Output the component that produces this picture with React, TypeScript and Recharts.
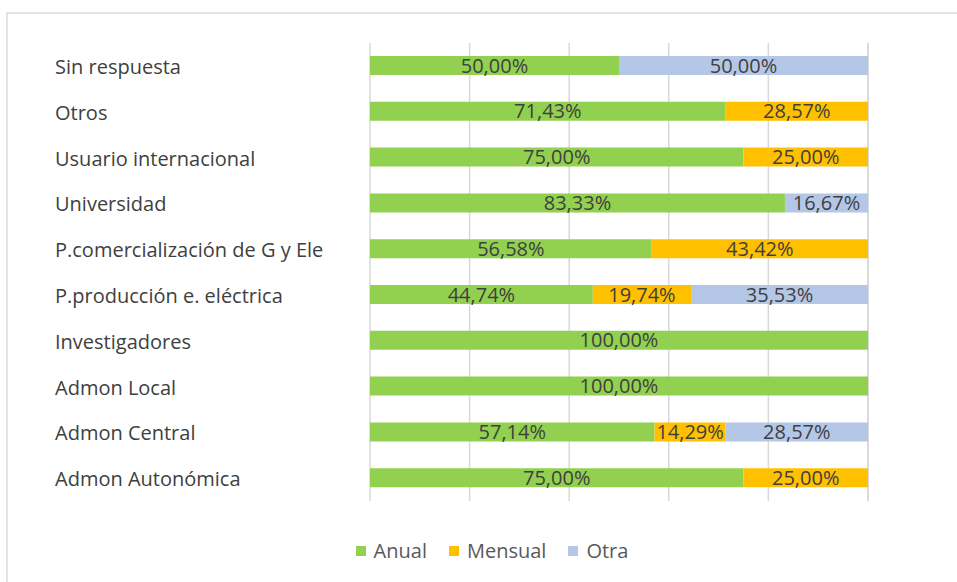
import { Bar, BarChart, CartesianGrid, LabelList, Legend, XAxis, YAxis } from 'recharts';

const categories = [
  'Sin respuesta',
  'Otros',
  'Usuario internacional',
  'Universidad',
  'P.comercialización de G y Ele',
  'P.producción e. eléctrica',
  'Investigadores',
  'Admon Local',
  'Admon Central',
  'Admon Autonómica',
];

const anual = [50, 71.43, 75, 83.33, 56.58, 44.74, 100, 100, 57.14, 75];
const mensual = [0, 28.57, 25, 0, 43.42, 19.74, 0, 0, 14.29, 25];
const otra = [50, 0, 0, 16.67, 0, 35.53, 0, 0, 28.57, 0];

const xTicks = [0, 20, 40, 60, 80, 100];

const series = [
  { key: 'anual', name: 'Anual', color: '#92d050' },
  { key: 'mensual', name: 'Mensual', color: '#ffc000' },
  { key: 'otra', name: 'Otra', color: '#b4c7e7' },
];

const data = categories.map((name, i) => ({
  name,
  anual: anual[i],
  mensual: mensual[i],
  otra: otra[i],
}));

const FONT = '"Open Sans", sans-serif';

const formatPct = (v: any) => (v > 0 ? `${Number(v).toFixed(2).replace('.', ',')}%` : '');

const CategoryTick = ({ y, payload }: any) => (
  <text x={55} y={y} dy={8} textAnchor="start" fill="#404040" fontSize={20} fontFamily={FONT}>
    {payload.value}
  </text>
);

const LegendContent = () => (
  <div
    style={{
      display: 'flex',
      justifyContent: 'center',
      paddingLeft: 27,
      height: 24,
      lineHeight: '24px',
      fontFamily: FONT,
      fontSize: 20,
      color: '#595959',
    }}
  >
    {series.map((s) => (
      <div key={s.key} style={{ display: 'flex', alignItems: 'center', margin: '0 11px' }}>
        <span style={{ width: 10, height: 10, background: s.color, marginRight: 8, display: 'inline-block' }} />
        {s.name}
      </div>
    ))}
  </div>
);

export default function App() {
  return (
    <div style={{ position: 'absolute', left: 0, top: 0, width: 957, height: 582, background: '#fff', overflow: 'hidden' }}>
      <div
        style={{
          position: 'absolute',
          left: 6,
          top: 12,
          width: 1000,
          height: 700,
          border: '2px solid #e3e3e3',
        }}
      />
      <div style={{ position: 'absolute', left: 0, top: 0 }}>
        <BarChart
          width={957}
          height={582}
          data={data}
          layout="vertical"
          margin={{ top: 43, right: 89, left: 55, bottom: 57 }}
          barSize={19}
        >
          <CartesianGrid horizontal={false} stroke="#d9d9d9" strokeWidth={1.5} />
          <XAxis type="number" domain={[0, 100]} ticks={xTicks} hide />
          <YAxis
            type="category"
            dataKey="name"
            width={315}
            axisLine={false}
            tickLine={false}
            tick={<CategoryTick />}
          />
          <Legend content={<LegendContent />} wrapperStyle={{ left: 0, top: 539, width: 957 }} />
          {series.map((s) => (
            <Bar key={s.key} dataKey={s.key} name={s.name} stackId="a" fill={s.color} isAnimationActive={false}>
              <LabelList
                dataKey={s.key}
                position="center"
                formatter={formatPct}
                fill="#404040"
                fontSize={20}
                fontFamily={FONT}
              />
            </Bar>
          ))}
        </BarChart>
      </div>
    </div>
  );
}
